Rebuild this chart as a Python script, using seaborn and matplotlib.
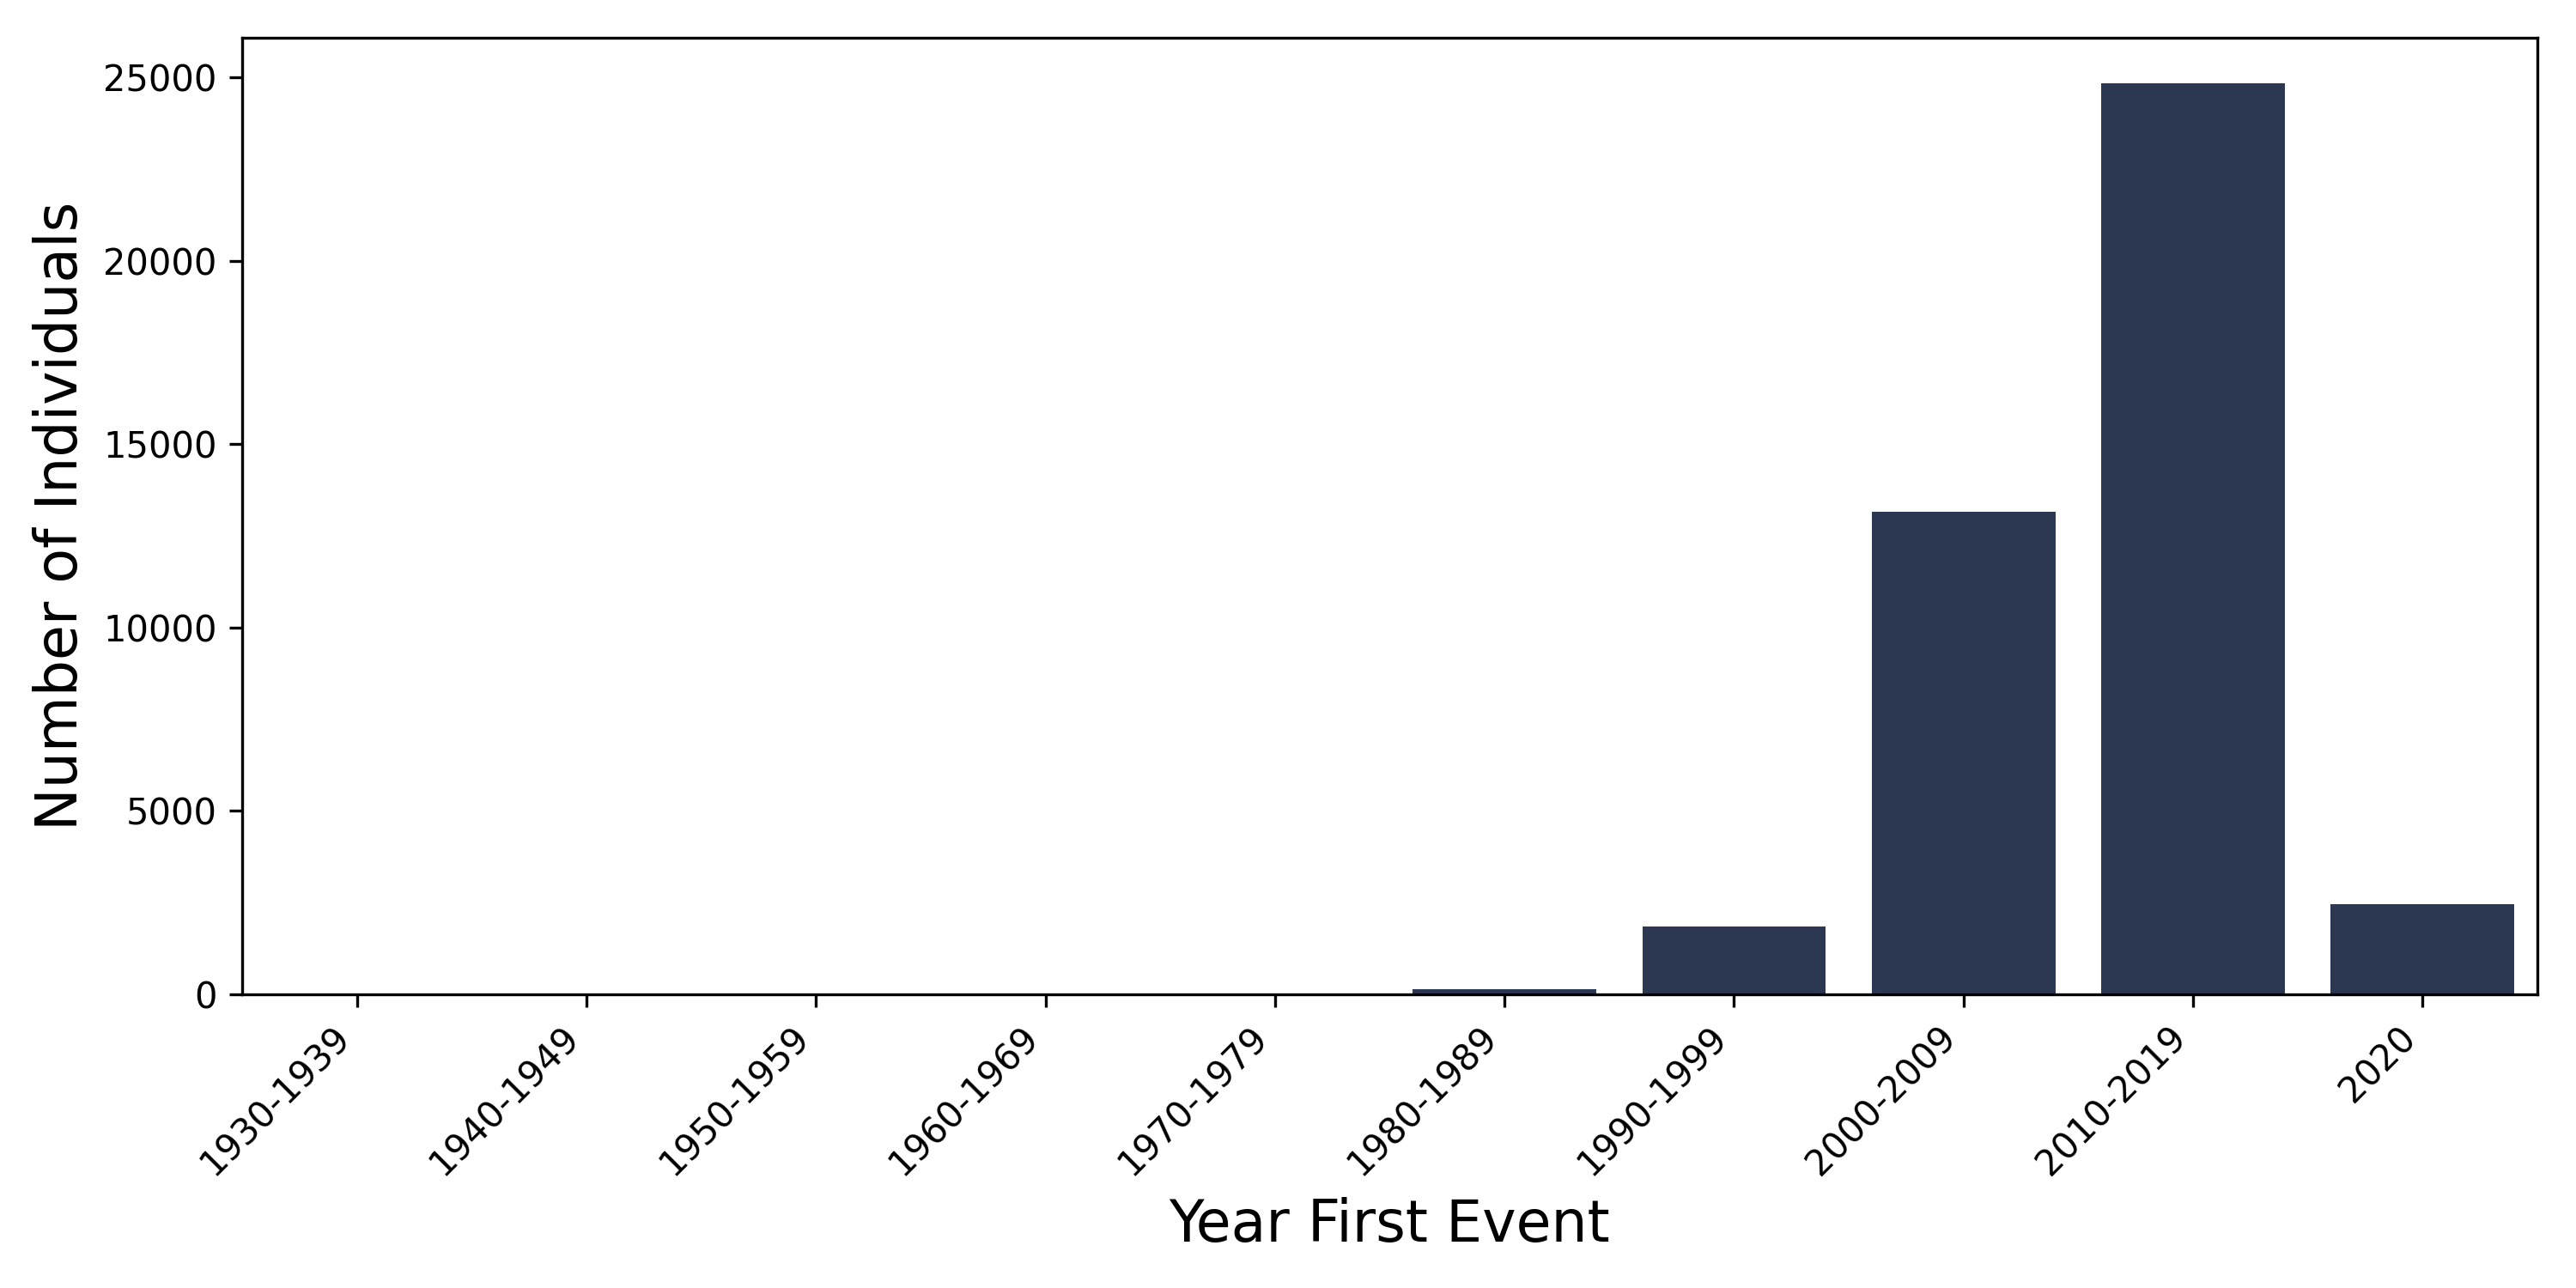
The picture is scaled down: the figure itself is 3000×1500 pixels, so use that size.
import matplotlib
matplotlib.use('Agg')
import matplotlib.pyplot as plt
import seaborn as sns
import pandas as pd

decades = ['1930-1939', '1940-1949', '1950-1959', '1960-1969', '1970-1979',
           '1980-1989', '1990-1999', '2000-2009', '2010-2019', '2020']
counts = [1, 1, 2, 5, 20, 150, 1850, 13150, 24850, 2450]

df = pd.DataFrame({'decade': decades, 'count': counts})

fig, ax = plt.subplots(figsize=(10, 5), dpi=300)
sns.barplot(data=df, x='decade', y='count', color='#2c3852', saturation=1, ax=ax)
ax.set_xlabel('Year First Event', fontsize=16)
ax.set_ylabel('Number of Individuals', fontsize=16)
ax.tick_params(labelsize=10)
plt.setp(ax.get_xticklabels(), rotation=45, ha='right')
plt.subplots_adjust(left=0.094, right=0.985, top=0.971, bottom=0.228)
plt.savefig('out.png', dpi=300)
